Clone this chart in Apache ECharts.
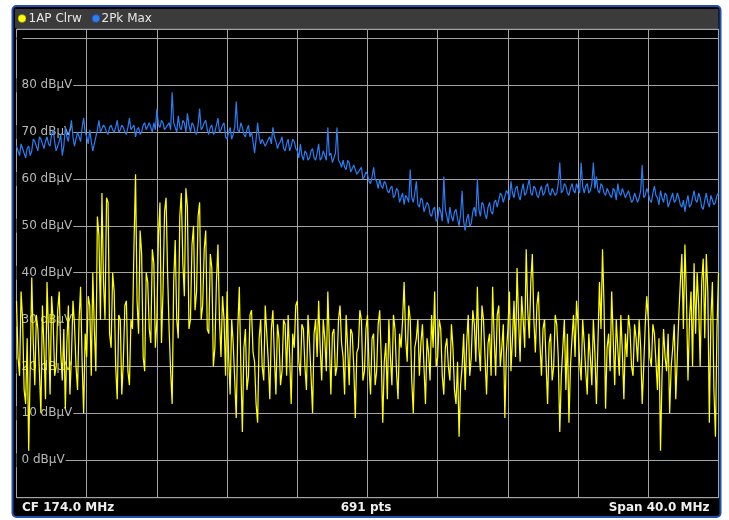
<!DOCTYPE html>
<html>
<head>
<meta charset="utf-8">
<script src="https://cdn.jsdelivr.net/npm/echarts@6/dist/echarts.min.js"></script>
<style>
  html, body { margin: 0; padding: 0; background: #ffffff; }
  #c { width: 729px; height: 520px; }
</style>
</head>
<body>
<div id="c"></div>
<script>
// ---- data (~every 1.5 px of the 691-pt traces) ----
const traceNames = ['1AP Clrw', '2Pk Max'];
const footerLabels = ['CF 174.0 MHz', '691 pts', 'Span 40.0 MHz'];
const yTickLabels = [0, 10, 20, 30, 40, 50, 60, 70, 80];

// Trace 1: AP Clear/Write (yellow), dBµV — one line per grid division
const trace1 = [
  34,22,18,36,30,15,12,26,2,20,39,25,16,31,28,19,10,33,24,13,38,27,14,35,30,18,20,32,36,23,17,28,11,25,33,14,22,34,29,20,15,30,37,21,10,27,
  22,35,33,18,40,28,19,52,48,30,57,38,30,56,55,27,24,40,36,20,13,31,30,14,21,33,34,19,16,30,28,46,61,34,27,49,44,22,19,40,38,28,25,45,42,24,
  30,48,55,25,36,53,56,40,28,19,12,38,47,30,26,52,57,42,35,58,54,28,30,46,50,32,36,52,55,30,33,45,49,28,27,44,41,20,24,38,46,30,22,35,30,18,
  36,22,14,30,25,17,9,28,37,20,6,24,28,15,18,31,32,23,21,12,8,26,30,20,17,33,27,21,13,28,32,22,14,29,26,16,19,30,29,18,31,22,12,27,24,33,
  34,21,18,29,28,20,15,31,25,18,10,27,30,22,34,24,17,30,26,19,36,25,14,27,28,18,20,30,33,25,22,14,31,24,16,28,27,20,9,23,24,32,30,17,19,28,
  31,20,14,26,27,16,19,29,32,22,8,21,25,13,30,22,16,31,28,19,13,27,24,30,38,26,21,33,30,17,10,24,26,30,18,25,29,20,12,26,23,17,31,24,36,20,
  22,30,28,18,14,24,26,20,17,29,24,15,12,21,5,16,20,27,15,25,31,18,22,32,29,21,37,24,19,33,30,22,14,25,27,18,37,26,18,31,33,20,24,29,9,23,
  28,36,19,26,34,22,41,30,21,35,30,24,45,32,26,38,44,30,23,33,36,25,18,28,30,21,12,25,27,17,20,31,29,22,6,18,24,30,15,27,8,20,26,31,22,34,
  29,21,17,30,25,19,14,27,22,16,30,23,12,25,38,28,45,33,11,24,27,19,36,26,16,30,24,18,31,23,13,27,22,31,28,20,18,29,26,21,30,24,12,20,29,35,
  30,22,20,29,27,21,15,26,2,18,28,22,19,27,10,20,24,29,13,22,31,38,44,28,46,35,17,30,36,20,42,27,40,33,20,38,43,26,44,36,8,30,38,15,5,28,40
];

// Trace 2: Peak Max hold (blue), dBµV — one line per grid division
const trace2 = [
  67,66,65,67.5,66.5,65.5,64.5,66.5,67,65,66,68.5,68,67,66,69,68.5,67.5,66.5,68,69,67.5,67,69.5,70.5,68,66,67,68,69.5,65,67,71,69,68,70.5,72.5,69,67,68.5,70,69,68,71,73,70,
  69,67.5,70.5,68,66,67.5,69,70.5,72.5,70,70,71.5,71,70,69.5,71,71.5,70.5,70,71,72.5,70,70.5,71.5,71,70,69.5,71,73,70.5,70.5,71.5,69,70.5,71,69.5,70,71.5,72,70.5,70.5,72,71,70,72,70.5,
  75,71.5,71,72.5,72,70.5,70.5,71.5,72,70.5,78.5,72,71,70,73.5,71,70.5,72.5,72,70,74,71.5,70,72,71.5,70,69.5,71.5,75,70.5,71,72,72.5,70.5,69.5,71,71.5,69.5,70,71.5,73,70,70.5,71.5,72,69,
  68.5,70,71,68.5,69.5,71,76.5,70.5,70,72,71,69.5,69,70.5,71.5,69,70,68,65.5,68.5,72,69,67.5,68.5,68.5,67,67,68.5,69,67.5,71,69,68,66.5,67.5,68,69,66.5,66,67.5,68.5,66,67,68.5,68,66.5,
  66,64.5,67.5,65,64,66,65.5,64,64.5,66,66.5,64.5,64,65.5,67.5,64,64.5,66,65,64,71,65,65.5,63.5,64.5,65.5,71,64,63.5,62.5,64,62.5,62,64,63.5,61.5,61.5,63,63,61,61,62,62.5,60,60.5,61.5,
  61,59.5,59,60.5,62.5,60,59.5,58,60,58.5,58,59.5,59,57.5,57,58,58.5,56,56.5,58,57.5,55,56,57,54.5,56.5,56,55,62,56,55,57,59.5,54.5,54,56,55.5,53,53,55,54.5,52.5,52,53.5,54,51,
  51.5,54,53,51,60.5,53.5,52,50.5,54,52,51,53,53.5,51.5,50,52.5,57.5,51,49,51.5,52.5,50,50.5,53,54,52,60,53.5,52,55,54.5,52.5,51.5,54,55,53,52.5,55,55.5,54,54,57,56.5,55,55,57.5,
  57,55.5,59.5,57,56,58,58.5,56.5,55.5,57.5,59,56.5,57,58.5,60,57,56.5,58.5,58,56.5,56,57.5,58.5,56.5,57,58.5,59,57,56.5,58,58,56.5,57,59,63.5,57,57.5,59,58.5,57,56.5,58,59,57.5,57,59,
  58,57,63.5,58.5,57,58.5,59,57,57.5,59,63.5,58,60.5,57.5,57,59,58.5,57,56.5,58,58,56.5,56,58,57.5,55.5,59,57,56.5,58,58,56,56,57.5,57.5,55,55.5,57,57,55,56,57.5,63,56,56.5,58,
  57,55.5,55,57,58.5,56.5,56,54.5,57.5,56,55,57,56.5,54,54,56,57,55,55.5,57,56,54.5,54,55.5,53,55,56.5,54,54.5,56,57.5,55.5,55,57,56,54,53.5,55.5,57,55,54,56.5,56.5,54.5,55,56.5,57
];

// ---- chart ----
const chart = echarts.init(document.getElementById('c'), null, { renderer: 'canvas', width: 729, height: 520 });

const gridColor = '#a4a4a4';
const font = 'DejaVu Sans';
const lastIndex = trace1.length - 1;

const toPairs = arr => arr.map((v, i) => [i, v]);

const option = {
  animation: false,
  backgroundColor: '#ffffff',
  grid: {
    left: 16.5, right: 10.5, top: 29, bottom: 22.3,
    show: true, backgroundColor: '#000000', borderColor: gridColor, borderWidth: 1,
    containLabel: false
  },
  xAxis: {
    type: 'value', min: 0, max: lastIndex, interval: lastIndex / 10,
    axisLine: { show: false }, axisTick: { show: false }, axisLabel: { show: false },
    splitLine: { show: true, lineStyle: { color: gridColor, width: 1 } }
  },
  yAxis: {
    type: 'value', min: -8, max: 92, splitNumber: 10,
    axisLine: { show: false }, axisTick: { show: false },
    splitLine: { show: true, lineStyle: { color: gridColor, width: 1 } },
    axisLabel: {
      inside: true, margin: 0,
      color: '#b8b8b8', fontFamily: font, fontSize: 12,
      backgroundColor: '#000000', padding: [1, 1, 1, 5],
      showMinLabel: false, showMaxLabel: false,
      formatter: v => (yTickLabels.indexOf(v) >= 0 ? v + ' dBµV' : '')
    }
  },
  series: [
    {
      name: traceNames[0], type: 'line', data: toPairs(trace1),
      symbol: 'none', showSymbol: false, sampling: null,
      lineStyle: { color: '#ffff00', width: 1.25 }, itemStyle: { color: '#ffff00' }, z: 3
    },
    {
      name: traceNames[1], type: 'line', data: toPairs(trace2),
      symbol: 'none', showSymbol: false, sampling: null,
      lineStyle: { color: '#2b7df2', width: 1.2 }, itemStyle: { color: '#2b7df2' }, z: 4
    }
  ],
  graphic: [
    { type: 'rect', z: -10, silent: true,
      shape: { x: 12.5, y: 6, width: 708, height: 511, r: 4 },
      style: { fill: '#000000', stroke: '#2152b3', lineWidth: 2 } },
    { type: 'rect', z: -5, silent: true,
      shape: { x: 15, y: 9, width: 703.5, height: 19 },
      style: { fill: '#3b3b3b' } },
    { type: 'circle', z: 10, silent: true,
      shape: { cx: 22, cy: 18.5, r: 4 },
      style: { fill: '#ffff00', stroke: '#6a6a20', lineWidth: 0.5 } },
    { type: 'text', z: 10, silent: true, x: 28.5, y: 18.5,
      style: { text: traceNames[0], fill: '#e6e6e6', font: '12px "DejaVu Sans"', verticalAlign: 'middle', align: 'left' } },
    { type: 'circle', z: 10, silent: true,
      shape: { cx: 96, cy: 18.5, r: 4 },
      style: { fill: '#2b7df2', stroke: '#1a3a70', lineWidth: 0.5 } },
    { type: 'text', z: 10, silent: true, x: 101.5, y: 18.5,
      style: { text: traceNames[1], fill: '#e6e6e6', font: '12px "DejaVu Sans"', verticalAlign: 'middle', align: 'left' } },
    { type: 'text', z: 10, silent: true, x: 22, y: 507.5,
      style: { text: footerLabels[0], fill: '#eeeeee', font: 'bold 12px "DejaVu Sans"', verticalAlign: 'middle', align: 'left' } },
    { type: 'text', z: 10, silent: true, x: 366, y: 507.5,
      style: { text: footerLabels[1], fill: '#eeeeee', font: 'bold 12px "DejaVu Sans"', verticalAlign: 'middle', align: 'center' } },
    { type: 'text', z: 10, silent: true, x: 709.5, y: 507.5,
      style: { text: footerLabels[2], fill: '#eeeeee', font: 'bold 12px "DejaVu Sans"', verticalAlign: 'middle', align: 'right' } }
  ]
};

chart.setOption(option);
</script>
</body>
</html>
